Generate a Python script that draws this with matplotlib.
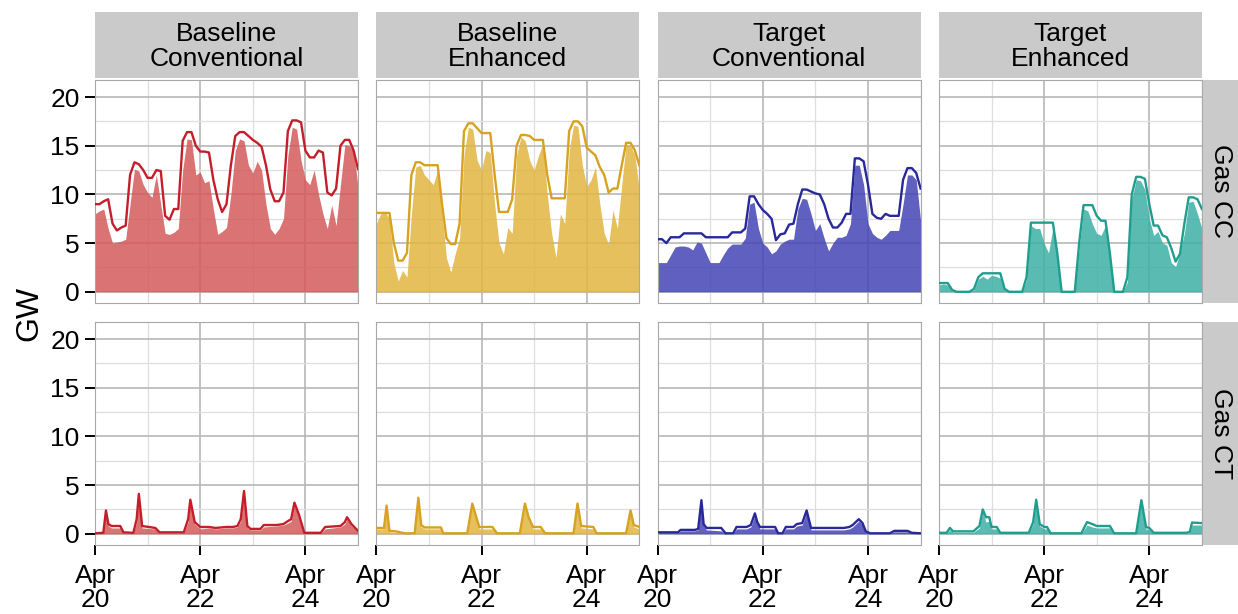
import numpy as np
import matplotlib
matplotlib.use("Agg")
import matplotlib.pyplot as plt

plt.rcParams['font.family'] = ['Liberation Sans', 'DejaVu Sans']

# ---------------------------------------------------------------- data
scenarios = ["Baseline\nConventional", "Baseline\nEnhanced",
             "Target\nConventional", "Target\nEnhanced"]
technologies = ["Gas CC", "Gas CT"]

line_colors = ["#c41e2b", "#d6a21f", "#28289a", "#1f9e8e"]
fill_colors = ["#d45a5a", "#e2b541", "#4444b6", "#3db0a6"]

# hours since Apr 20 00:00, two-hourly for the combined-cycle fleet
cc_hours = np.arange(0, 121, 2)

# Gas CC: committed capacity (line) and generation (area), GW
cc_commit_bc = [9.0, 9.0, 9.3, 9.5, 7.0, 6.3, 6.6, 6.8, 12.0, 13.3, 13.1, 12.5, 11.7, 11.7,
                12.5, 12.4, 7.8, 7.4, 8.5, 8.5, 15.5, 16.4, 16.4, 15.0, 14.4, 14.4, 14.3,
                11.5, 9.5, 8.2, 9.0, 13.0, 16.0, 16.4, 16.4, 16.0, 15.6, 15.3, 14.9, 13.0,
                10.5, 9.3, 9.3, 10.2, 16.5, 17.6, 17.6, 17.4, 14.5, 13.8, 13.8, 14.5, 14.3,
                10.2, 9.9, 10.6, 15.0, 15.6, 15.6, 14.5, 12.6]
cc_gen_bc = [8.0, 8.3, 8.5, 6.5, 5.0, 5.1, 5.2, 5.4, 9.0, 12.6, 12.4, 11.0, 10.2, 9.7,
             12.0, 9.0, 6.0, 5.9, 6.1, 6.5, 12.5, 15.7, 15.6, 12.0, 12.3, 11.2, 11.4,
             8.5, 5.9, 6.2, 6.6, 10.0, 14.5, 15.7, 15.5, 13.0, 12.2, 13.4, 12.5, 9.0,
             6.5, 5.9, 6.5, 7.5, 14.0, 16.9, 16.7, 13.5, 11.5, 11.0, 12.5, 10.0, 8.0,
             6.5, 8.9, 6.8, 11.0, 15.1, 15.0, 14.5, 10.8]

cc_commit_be = [8.1, 8.1, 8.1, 8.1, 5.0, 3.2, 3.2, 4.0, 12.0, 13.3, 13.3, 13.0, 13.0, 13.0,
                13.0, 9.0, 5.5, 4.9, 4.9, 7.0, 16.5, 17.3, 17.3, 16.8, 16.3, 16.3, 16.3,
                12.0, 8.2, 8.2, 8.2, 9.5, 15.0, 16.1, 16.1, 16.0, 15.6, 15.6, 15.6, 12.0,
                9.6, 9.6, 9.6, 9.6, 16.5, 17.5, 17.5, 17.0, 14.8, 14.4, 14.0, 12.8, 12.0,
                10.2, 10.6, 10.6, 13.0, 15.3, 15.3, 14.5, 13.0]
cc_gen_be = [7.0, 8.0, 8.2, 7.5, 3.0, 1.1, 2.2, 1.5, 8.0, 12.8, 13.0, 12.0, 11.5, 11.0,
             12.5, 8.0, 3.5, 2.0, 3.9, 5.5, 14.0, 16.9, 16.7, 13.5, 12.5, 14.5, 14.3,
             9.0, 5.0, 3.9, 6.6, 6.0, 14.0, 15.9, 15.5, 13.5, 12.5, 14.0, 15.2, 10.0,
             6.0, 3.5, 8.0, 7.0, 14.5, 17.1, 17.0, 13.0, 10.8, 11.5, 12.8, 9.0, 6.0,
             4.9, 8.4, 6.5, 11.0, 15.2, 15.0, 14.0, 10.4]

cc_commit_tc = [5.4, 5.4, 5.0, 5.6, 5.6, 5.6, 6.0, 6.0, 6.0, 6.0, 6.0, 5.6, 5.6, 5.6,
                5.6, 5.6, 5.6, 6.1, 6.1, 6.1, 6.5, 9.8, 9.8, 9.0, 8.4, 8.0, 7.5,
                5.3, 5.9, 6.0, 6.9, 7.0, 9.0, 10.5, 10.5, 10.3, 10.1, 10.0, 9.0, 7.5,
                6.6, 6.6, 7.1, 8.0, 8.0, 13.7, 13.7, 13.4, 11.0, 8.0, 7.6, 7.5, 8.0,
                7.8, 7.8, 7.8, 11.5, 12.7, 12.7, 12.2, 10.6]
cc_gen_tc = [3.0, 3.0, 3.0, 3.8, 4.6, 4.7, 4.7, 4.6, 4.3, 5.1, 5.0, 4.0, 3.0, 3.0,
             3.0, 3.8, 4.5, 4.9, 4.9, 4.9, 5.5, 9.0, 9.2, 6.5, 5.0, 4.6, 3.9,
             4.2, 4.9, 5.2, 5.4, 5.4, 8.5, 9.6, 9.5, 8.0, 6.3, 7.0, 5.5, 4.2,
             5.0, 5.6, 5.6, 5.8, 7.0, 13.0, 13.0, 11.0, 7.0, 6.0, 5.6, 5.4, 5.8,
             6.3, 6.3, 6.3, 9.0, 12.0, 12.0, 11.5, 7.3]

cc_commit_te = [0.9, 0.9, 0.9, 0.2, 0.0, 0.0, 0.0, 0.0, 0.3, 1.5, 1.9, 1.9, 1.9, 1.9,
                1.9, 0.3, 0.0, 0.0, 0.0, 0.0, 1.5, 7.1, 7.1, 7.1, 7.1, 7.1, 7.1,
                4.0, 0.0, 0.0, 0.0, 0.0, 5.0, 8.9, 8.9, 8.9, 7.8, 7.3, 7.3, 4.0,
                0.0, 0.0, 0.0, 1.5, 10.0, 11.8, 11.8, 11.6, 9.0, 6.8, 6.8, 5.8, 5.6,
                4.5, 3.1, 3.9, 7.0, 9.7, 9.7, 9.5, 8.5]
cc_gen_te = [0.7, 0.8, 0.7, 0.1, 0.0, 0.0, 0.0, 0.0, 0.2, 1.3, 1.6, 1.3, 1.7, 1.6,
             1.4, 0.2, 0.0, 0.0, 0.0, 0.0, 1.2, 6.8, 6.5, 6.5, 5.0, 4.0, 6.5,
             3.5, 0.0, 0.0, 0.0, 0.0, 4.5, 8.5, 8.3, 7.0, 6.0, 5.8, 6.8, 3.5,
             0.0, 0.0, 0.0, 1.0, 9.5, 11.5, 11.4, 10.5, 7.5, 5.8, 6.2, 5.0, 4.8,
             3.0, 2.6, 4.0, 6.0, 9.2, 9.3, 8.0, 6.5]

# Gas CT: breakpoints in hours with committed capacity and generation, GW
ct_hours_bc = [0, 3.8, 5.0, 6.1, 7.5, 11.5, 13.0, 17.5, 19.0, 20.0, 21.5, 27.5, 29.5,
               40.5, 42.5, 43.5, 45.5, 48, 52, 55, 60, 63, 65, 66.5, 68.0, 69.5, 71,
               75.5, 77, 83, 86, 88, 89.5, 91, 93, 95.5, 103, 105, 112, 114, 115, 117, 120]
ct_commit_bc = [0.05, 0.1, 2.4, 1.0, 0.8, 0.8, 0.15, 0.1, 1.5, 4.1, 0.8, 0.6, 0.15,
                0.15, 1.5, 3.5, 1.2, 0.7, 0.7, 0.6, 0.7, 0.7, 0.8, 1.5, 4.4, 0.8, 0.5,
                0.5, 0.9, 0.9, 1.0, 1.3, 1.5, 3.2, 2.0, 0.1, 0.1, 0.7, 0.8, 1.2, 1.7, 1.0, 0.3]
ct_gen_bc = [0.0, 0.05, 2.2, 0.8, 0.6, 0.6, 0.1, 0.05, 1.2, 3.8, 0.6, 0.5, 0.1,
             0.1, 1.2, 3.3, 1.0, 0.5, 0.6, 0.5, 0.6, 0.6, 0.7, 1.3, 4.2, 0.6, 0.4,
             0.4, 0.7, 0.8, 0.9, 1.1, 1.3, 3.0, 1.6, 0.05, 0.05, 0.5, 0.7, 1.0, 1.5, 0.8, 0.2]

ct_hours_be = [0, 3.5, 4.7, 6.0, 9.0, 12.0, 13.5, 17.5, 19.2, 20.5, 22.0, 29.5, 30.5,
               41.5, 43.8, 45.5, 47.0, 53.0, 55.0, 65.5, 67.8, 69.5, 71.5, 75.0, 77.0,
               90.0, 91.8, 93.5, 99.0, 100.5, 114.0, 116.0, 117.5, 120]
ct_commit_be = [0.6, 0.6, 2.9, 0.3, 0.25, 0.1, 0.05, 0.05, 3.7, 0.9, 0.65, 0.65, 0.05,
                0.05, 3.1, 1.8, 0.7, 0.7, 0.05, 0.05, 3.1, 1.7, 0.7, 0.7, 0.05,
                0.05, 3.1, 0.8, 0.7, 0.05, 0.05, 2.4, 0.9, 0.7]
ct_gen_be = [0.5, 0.5, 2.7, 0.2, 0.15, 0.05, 0.0, 0.0, 3.5, 0.7, 0.5, 0.5, 0.0,
             0.0, 2.9, 1.5, 0.5, 0.5, 0.0, 0.0, 2.9, 1.4, 0.5, 0.5, 0.0,
             0.0, 2.9, 0.6, 0.5, 0.0, 0.0, 2.2, 0.7, 0.5]

ct_hours_tc = [0, 9.3, 10.5, 17.0, 18.5, 20.0, 21.0, 22.3, 29.0, 31.0, 34.5, 36.0, 40.6,
               42.5, 44.4, 45.5, 46.7, 53.6, 55.0, 57.0, 58.5, 62.0, 63.5, 66.0, 68.0,
               69.0, 70.0, 85.0, 87.5, 89.0, 91.8, 93.5, 95.0, 97.0, 106.0, 108.0, 114.0,
               116.0, 120]
ct_commit_tc = [0.15, 0.15, 0.4, 0.4, 0.5, 3.45, 1.0, 0.6, 0.6, 0.05, 0.05, 0.7, 0.7,
                0.9, 2.1, 1.2, 0.7, 0.7, 0.05, 0.05, 0.7, 0.7, 1.0, 1.1, 2.4,
                1.5, 0.6, 0.6, 0.7, 0.9, 1.5, 1.1, 0.25, 0.05, 0.05, 0.3, 0.3, 0.1, 0.05]
ct_gen_tc = [0.1, 0.1, 0.3, 0.3, 0.4, 3.3, 0.8, 0.4, 0.3, 0.0, 0.0, 0.5, 0.5,
             0.7, 1.9, 1.0, 0.5, 0.5, 0.0, 0.0, 0.5, 0.5, 0.8, 0.9, 2.2,
             1.3, 0.4, 0.4, 0.5, 0.7, 1.3, 0.9, 0.15, 0.0, 0.0, 0.2, 0.2, 0.05, 0.0]

ct_hours_te = [0, 3.5, 5.0, 6.5, 15.7, 18.5, 20.0, 21.5, 23.0, 24.0, 26.4, 28.0, 41.0,
               43.0, 44.4, 46.0, 48.0, 49.3, 51.0, 65.0, 67.6, 70.0, 72.0, 78.0, 80.0,
               90.0, 92.4, 94.5, 96.0, 98.0, 113.0, 114.5, 115.5, 120]
ct_commit_te = [0.1, 0.1, 0.6, 0.25, 0.25, 0.8, 2.5, 1.7, 1.7, 0.7, 0.7, 0.1, 0.1,
                1.2, 3.5, 1.0, 0.7, 0.7, 0.05, 0.05, 1.2, 1.0, 0.8, 0.8, 0.05,
                0.05, 3.45, 0.7, 0.6, 0.1, 0.1, 0.2, 1.15, 1.1]
ct_gen_te = [0.05, 0.05, 0.4, 0.15, 0.15, 0.6, 2.3, 1.2, 1.3, 0.5, 0.5, 0.05, 0.05,
             1.0, 3.3, 0.8, 0.5, 0.5, 0.0, 0.0, 0.9, 0.7, 0.6, 0.6, 0.0,
             0.0, 3.3, 0.5, 0.4, 0.05, 0.05, 0.1, 0.9, 0.9]

y_ticks = [0, 5, 10, 15, 20]
x_tick_hours = [0, 48, 96]
x_tick_labels = ["Apr\n20", "Apr\n22", "Apr\n24"]
x_minor_hours = [24, 72, 120]

panels = {
    ("Gas CC", 0): (cc_hours, cc_commit_bc, cc_gen_bc),
    ("Gas CC", 1): (cc_hours, cc_commit_be, cc_gen_be),
    ("Gas CC", 2): (cc_hours, cc_commit_tc, cc_gen_tc),
    ("Gas CC", 3): (cc_hours, cc_commit_te, cc_gen_te),
    ("Gas CT", 0): (ct_hours_bc, ct_commit_bc, ct_gen_bc),
    ("Gas CT", 1): (ct_hours_be, ct_commit_be, ct_gen_be),
    ("Gas CT", 2): (ct_hours_tc, ct_commit_tc, ct_gen_tc),
    ("Gas CT", 3): (ct_hours_te, ct_commit_te, ct_gen_te),
}

# ---------------------------------------------------------------- layout
W, H = 1238, 614
fig = plt.figure(figsize=(W / 100, H / 100), dpi=100)
fig.patch.set_facecolor("white")


def frac(x0, y0, x1, y1):
    return [x0 / W, 1 - y1 / H, (x1 - x0) / W, (y1 - y0) / H]


col_left = [95, 376.3, 657.6, 938.9]
col_w = 263
row_top = [80, 322]
row_h = 222.5
strip_col = "#cacaca"
major_col = "#b8b8b8"
minor_col = "#dedede"
border_col = "#a8a8a8"
fs = 19

for r, tech in enumerate(technologies):
    for c in range(4):
        x0 = col_left[c]
        y0 = row_top[r]
        ax = fig.add_axes(frac(x0, y0, x0 + col_w, y0 + row_h))
        hrs, commit, gen = panels[(tech, c)]
        ax.fill_between(hrs, 0, gen, color=fill_colors[c], alpha=0.85, lw=0, zorder=2)
        ax.plot(hrs, commit, color=line_colors[c], lw=1.7, zorder=3,
                solid_joinstyle="round")
        ax.set_xlim(0, 120)
        ax.set_ylim(-1.1, 21.75)
        ax.set_xticks(x_tick_hours)
        ax.set_xticks(x_minor_hours, minor=True)
        ax.set_yticks(y_ticks)
        ax.set_yticks([2.5, 7.5, 12.5, 17.5], minor=True)
        ax.grid(which="major", color=major_col, lw=1.2, zorder=0)
        ax.grid(which="minor", color=minor_col, lw=0.9, zorder=0)
        ax.set_axisbelow(True)
        for s in ax.spines.values():
            s.set_color(border_col)
            s.set_linewidth(0.8)
        ax.tick_params(which="minor", length=0)
        ax.tick_params(which="major", length=7, width=1.4, color="black",
                       labelsize=fs, pad=4)
        if c == 0:
            ax.set_yticklabels([str(v) for v in y_ticks])
        else:
            ax.tick_params(axis="y", length=0, labelleft=False)
        if r == 1:
            ax.set_xticklabels(x_tick_labels, linespacing=1.0)
            ax.tick_params(axis="x", pad=7)
        else:
            ax.tick_params(axis="x", length=0, labelbottom=False)

        # facet strips
        if r == 0:
            sax = fig.add_axes(frac(x0, 12, x0 + col_w, 78))
            sax.set_facecolor(strip_col)
            sax.set_xticks([])
            sax.set_yticks([])
            for s in sax.spines.values():
                s.set_visible(False)
            sax.text(0.5, 0.48, scenarios[c], ha="center", va="center",
                     fontsize=fs, linespacing=1.08, transform=sax.transAxes)
        if c == 3:
            rax = fig.add_axes(frac(1203, y0, 1238, y0 + row_h))
            rax.set_facecolor(strip_col)
            rax.set_xticks([])
            rax.set_yticks([])
            for s in rax.spines.values():
                s.set_visible(False)
            rax.text(0.5, 0.5, tech, ha="center", va="center", rotation=-90,
                     fontsize=fs, transform=rax.transAxes)

fig.text(29 / W, 1 - 313 / H, "GW", rotation=90, ha="center", va="center",
         fontsize=23)

fig.savefig("out.png", dpi=100, facecolor="white")
